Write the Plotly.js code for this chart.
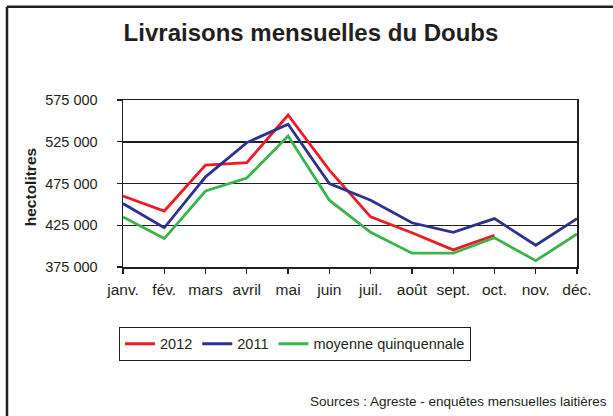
<!DOCTYPE html>
<html>
<head>
<meta charset="utf-8">
<script src="https://cdn.plot.ly/plotly-3.0.1.min.js"></script>
<style>html,body{margin:0;padding:0;background:#fff;}#chart{width:613px;height:416px;}</style>
</head>
<body>
<div id="chart"></div>
<script>
const months = ['janv.', 'fév.', 'mars', 'avril', 'mai', 'juin', 'juil.', 'août', 'sept.', 'oct.', 'nov.', 'déc.'];
const series2012 = [460000, 442000, 497000, 500000, 557000, 491000, 435000, 416000, 395500, 413000];
const series2011 = [451000, 422000, 483000, 524000, 546000, 475000, 455000, 428000, 416500, 433000, 401000, 433000];
const seriesMoy = [435000, 409000, 466000, 481500, 532000, 455000, 416500, 391500, 391500, 410000, 382500, 414500];
const yTickVals = [375000, 425000, 475000, 525000, 575000];
const yTickText = ['375 000', '425 000', '475 000', '525 000', '575 000'];

const font = 'Liberation Sans, Arial, sans-serif';
const dark = '#231f20';

const traces = [
  {x: months.slice(0, series2012.length), y: series2012, name: '2012', type: 'scatter', mode: 'lines', line: {color: '#ED1C24', width: 2.8}},
  {x: months, y: series2011, name: '2011', type: 'scatter', mode: 'lines', line: {color: '#2E3192', width: 2.8}},
  {x: months, y: seriesMoy, name: 'moyenne quinquennale', type: 'scatter', mode: 'lines', line: {color: '#39B54A', width: 2.8}}
];

// geometry helpers (pixel -> paper)
const L = 123, R = 577, T = 99.5, B = 267, W = 613, H = 416;
const px = v => (v - L) / (R - L);
const py = v => (B - v) / (B - T);

const layout = {
  width: W, height: H,
  margin: {l: L, r: W - R, t: T, b: H - B, pad: 0},
  paper_bgcolor: '#fff', plot_bgcolor: '#fff',
  font: {family: font, size: 14.5, color: dark},
  showlegend: true,
  title: {text: 'Livraisons mensuelles du Doubs', font: {family: font, size: 24, color: dark, weight: 'bold'}, x: 311 / W, xanchor: 'center', y: 1 - 33 / H, yanchor: 'middle', xref: 'container', yref: 'container'},
  xaxis: {
    type: 'category', categoryorder: 'array', categoryarray: months,
    range: [0, 11], showgrid: false, zeroline: false,
    showline: true, linecolor: dark, linewidth: 1.5, mirror: true,
    ticks: 'outside', ticklen: 5, tickwidth: 1.2, tickcolor: dark,
    tickfont: {family: font, size: 15.5, color: dark}, ticklabelstandoff: 3
  },
  yaxis: {
    range: [375000, 575000], tickvals: yTickVals, ticktext: yTickText,
    showgrid: true, gridcolor: dark, gridwidth: 1.5, zeroline: false,
    showline: true, linecolor: dark, linewidth: 1.5, mirror: true,
    ticks: 'outside', ticklen: 5, tickwidth: 1.2, tickcolor: dark,
    tickfont: {family: font, size: 14.5, color: dark}, ticklabelstandoff: 16
  },
  legend: {
    orientation: 'h', x: px(119), xanchor: 'left', y: py(327), yanchor: 'top',
    bordercolor: dark, borderwidth: 1, bgcolor: '#fff',
    font: {family: font, size: 14.5, color: dark}, itemwidth: 30, tracegroupgap: 0
  },
  annotations: [
    {text: 'hectolitres', textangle: -90, xref: 'paper', yref: 'paper', x: px(30), y: py(187), xanchor: 'center', yanchor: 'middle', showarrow: false, font: {family: font, size: 15.5, color: dark, weight: 'bold'}},
    {text: 'Sources : Agreste - enquêtes mensuelles laitières', xref: 'paper', yref: 'paper', x: px(609), y: py(402), xanchor: 'right', yanchor: 'middle', showarrow: false, font: {family: font, size: 13.5, color: dark}}
  ],
  shapes: [
    {type: 'line', xref: 'paper', yref: 'paper', x0: px(7), x1: px(640), y0: py(6), y1: py(6), line: {color: dark, width: 2.5}},
    {type: 'line', xref: 'paper', yref: 'paper', x0: px(7), x1: px(7), y0: py(6), y1: py(440), line: {color: dark, width: 2.5}}
  ]
};

Plotly.newPlot('chart', traces, layout, {displayModeBar: false, staticPlot: true});
</script>
</body>
</html>
